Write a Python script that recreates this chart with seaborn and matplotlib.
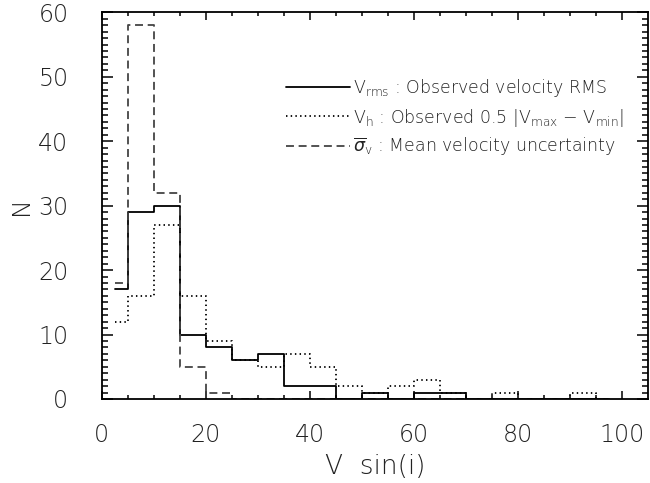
import numpy as np
import pandas as pd
import matplotlib
matplotlib.use("Agg")
import matplotlib.pyplot as plt
import seaborn as sns

# Histogram bins: 5 km/s wide, plotted at bin centres as steps
bin_left = np.arange(0, 100, 5)
bin_center = bin_left + 2.5

# Counts per bin
n_vrms = [17, 29, 30, 10, 8, 6, 7, 2, 2, 0, 1, 0, 1, 1, 0, 0, 0, 0, 0, 0]
n_vh = [12, 16, 27, 16, 9, 6, 5, 7, 5, 2, 1, 2, 3, 1, 0, 1, 0, 0, 1, 0]
n_sigma = [18, 58, 32, 5, 1, 0, 0, 0, 0, 0, 0, 0, 0, 0, 0, 0, 0, 0, 0, 0]

labels = [
    r"$\mathregular{V_{rms}}$ : Observed velocity RMS",
    r"$\mathregular{V_{h}}$ : Observed 0.5 |$\mathregular{V_{max}}$ $-$ $\mathregular{V_{min}}$|",
    r"$\overline{\sigma}_{\mathregular{v}}$ : Mean velocity uncertainty",
]

sns.set_theme(style="ticks")
plt.rcParams["font.family"] = ["DejaVu Sans"]
plt.rcParams["font.weight"] = "light"
plt.rcParams["axes.labelweight"] = "light"
plt.rcParams["mathtext.fontset"] = "dejavusans"

fig = plt.figure(figsize=(6.5, 4.83), dpi=100)
ax = fig.add_axes([0.1565, 0.174, 0.8405, 0.8005])

lw = 1.3
sns.lineplot(x=bin_center, y=n_vrms, ax=ax, drawstyle="steps-mid", estimator=None,
             color="black", lw=lw, label=labels[0])
sns.lineplot(x=bin_center, y=n_vh, ax=ax, drawstyle="steps-mid", estimator=None,
             color="black", lw=lw, linestyle=(0, (0.8, 1.8)), label=labels[1])
sns.lineplot(x=bin_center, y=n_sigma, ax=ax, drawstyle="steps-mid", estimator=None,
             color="#444444", lw=lw, linestyle=(0, (4.4, 2.6)), label=labels[2])

ax.set_xlim(0, 105)
ax.set_ylim(0, 60)
ax.set_xticks(np.arange(0, 101, 20))
ax.set_xticks(np.arange(0, 105, 5), minor=True)
ax.set_yticks(np.arange(0, 61, 10))
ax.set_yticks(np.arange(0, 61, 1), minor=True)

for s in ax.spines.values():
    s.set_linewidth(1.3)
    s.set_color("black")

ax.tick_params(axis="both", which="both", direction="in", top=True, right=True,
               color="black", width=1.1, labelsize=17, labelcolor="#222222")
ax.tick_params(axis="x", which="major", length=5.6, pad=17)
ax.tick_params(axis="x", which="minor", length=2.8)
ax.tick_params(axis="y", which="major", length=7.9, pad=24)
ax.tick_params(axis="y", which="minor", length=4.0)

ax.set_xlabel("V  sin(i)", fontsize=19, fontweight="light", color="#222222", labelpad=5)
ax.set_ylabel("N", fontsize=18, fontweight="light", color="#222222", rotation=90, labelpad=4)

leg = ax.legend(loc="upper left", bbox_to_anchor=(0.325, 0.85), frameon=False,
                fontsize=12.5, handlelength=3.7, handletextpad=0.15,
                labelspacing=0.42, borderaxespad=0)
for t in leg.get_texts():
    t.set_color("#222222")

fig.savefig("out.png", dpi=100)
